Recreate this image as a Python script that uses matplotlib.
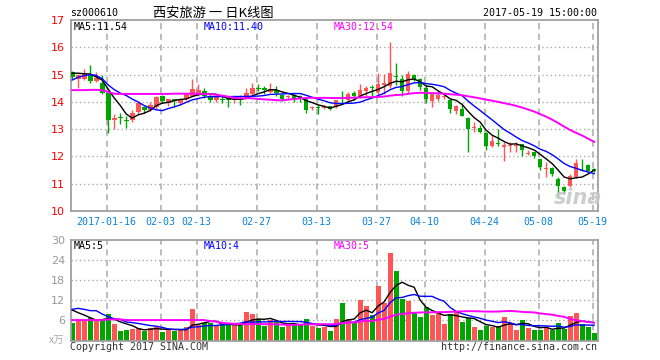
import numpy as np
import pandas as pd
import matplotlib
matplotlib.use('Agg')
import matplotlib.pyplot as plt

# ---------------- data ----------------
start_date = '2017-01-06'
end_date = '2017-05-19'
holidays = ['2017-01-27', '2017-01-30', '2017-01-31', '2017-02-01', '2017-02-02',
            '2017-04-03', '2017-04-04', '2017-05-01']

opens = [15.08, 14.83, 14.85, 15.03, 14.75, 14.70, 14.33, 13.35, 13.42, 13.35,
         13.35, 13.62, 13.80, 13.70, 13.80, 14.20, 13.97, 14.10, 13.97, 14.10,
         14.21, 14.25, 14.38, 14.20, 14.05, 14.12, 14.10, 14.07, 14.12, 14.15,
         14.27, 14.50, 14.49, 14.36, 14.43, 14.25, 14.17, 14.26, 14.21, 14.09,
         13.76, 13.80, 13.78, 13.84, 13.80, 14.15, 14.05, 14.33, 14.21, 14.40,
         14.55, 14.37, 14.62, 14.58, 14.93, 14.83, 14.40, 14.97, 14.83, 14.50,
         14.03, 14.10, 14.18, 14.05, 13.66, 13.72, 13.41, 13.03, 13.04, 12.86,
         12.37, 12.48, 12.33, 12.40, 12.40, 12.46, 12.08, 12.15, 11.90, 11.55,
         11.57, 11.17, 10.87, 10.90, 11.26, 11.52, 11.68, 11.53]
highs = [15.12, 15.02, 15.20, 15.35, 15.10, 14.97, 14.40, 13.55, 13.60, 13.50,
         13.70, 14.00, 13.85, 14.00, 14.20, 14.25, 14.12, 14.10, 14.12, 14.30,
         14.84, 14.64, 14.52, 14.28, 14.25, 14.20, 14.12, 14.20, 14.25, 14.52,
         14.70, 14.64, 14.57, 14.68, 14.57, 14.30, 14.25, 14.30, 14.26, 14.10,
         13.85, 13.88, 13.90, 13.86, 14.08, 14.40, 14.35, 14.40, 14.64, 14.58,
         14.62, 15.07, 15.02, 16.21, 15.41, 15.00, 15.13, 15.02, 14.88, 14.60,
         14.30, 14.38, 14.30, 14.10, 13.90, 13.94, 13.45, 13.25, 13.15, 12.88,
         12.77, 13.00, 12.52, 12.52, 12.52, 12.47, 12.25, 12.15, 11.92, 11.78,
         11.62, 11.26, 10.92, 11.35, 11.90, 11.90, 11.72, 11.58]
lows = [14.85, 14.52, 14.80, 14.70, 14.72, 14.30, 12.86, 13.00, 13.20, 13.05,
        13.25, 13.55, 13.60, 13.65, 13.75, 13.95, 13.85, 13.80, 13.90, 14.05,
        14.20, 14.22, 14.15, 14.00, 14.00, 13.95, 13.80, 13.95, 13.88, 14.12,
        14.25, 14.39, 14.27, 14.33, 14.20, 14.03, 14.05, 14.00, 14.00, 13.60,
        13.70, 13.55, 13.72, 13.70, 13.78, 13.97, 13.97, 14.05, 14.15, 14.20,
        14.15, 14.20, 14.27, 14.52, 14.62, 14.21, 14.33, 14.78, 14.45, 13.97,
        13.82, 14.03, 14.12, 13.60, 13.54, 13.48, 12.15, 12.88, 12.85, 12.22,
        12.33, 12.38, 11.85, 12.18, 12.18, 12.00, 12.05, 11.95, 11.49, 11.24,
        11.30, 10.47, 10.65, 10.88, 11.22, 11.45, 11.45, 11.42]
closes = [14.90, 15.00, 15.03, 14.75, 14.88, 14.33, 13.35, 13.40, 13.40, 13.30,
          13.58, 13.94, 13.70, 13.90, 14.18, 14.03, 14.10, 14.03, 14.10, 14.27,
          14.47, 14.42, 14.22, 14.08, 14.20, 14.06, 14.05, 14.10, 14.08, 14.33,
          14.52, 14.47, 14.43, 14.48, 14.31, 14.12, 14.20, 14.10, 14.09, 13.70,
          13.78, 13.77, 13.85, 13.74, 14.05, 14.10, 14.27, 14.21, 14.42, 14.52,
          14.50, 14.64, 14.70, 15.04, 14.90, 14.40, 15.01, 14.83, 14.56, 14.10,
          14.27, 14.25, 14.20, 13.72, 13.84, 13.50, 13.00, 13.05, 12.90, 12.37,
          12.58, 12.45, 12.43, 12.42, 12.42, 12.22, 12.10, 12.03, 11.63, 11.58,
          11.35, 10.92, 10.75, 11.30, 11.77, 11.48, 11.48, 11.45]
volumes = [5.3, 6.1, 6.1, 6.8, 6.1, 6.1, 7.9, 4.9, 2.9, 3.1,
           3.4, 3.6, 2.9, 3.8, 4.1, 2.6, 3.3, 2.9, 3.3, 3.9,
           9.5, 4.6, 5.1, 5.3, 4.3, 4.6, 4.7, 4.8, 4.7, 8.5,
           7.8, 6.3, 4.3, 6.1, 5.6, 3.9, 4.9, 4.6, 4.5, 6.3,
           4.3, 3.6, 3.9, 2.8, 6.4, 11.3, 6.4, 5.1, 12.1, 10.3,
           7.6, 16.4, 11.3, 26.2, 20.7, 12.4, 11.8, 8.5, 7.0, 9.9,
           7.6, 8.1, 4.9, 7.8, 8.8, 5.6, 6.6, 4.0, 3.1, 4.4,
           4.1, 4.3, 7.0, 5.1, 3.1, 6.1, 3.7, 3.1, 3.1, 3.8,
           3.1, 5.1, 3.5, 7.3, 8.1, 4.9, 4.1, 2.3]

# moving-average values for days whose window starts before the shown range
ma5_lead = [15.05, 15.05, 15.03, 15.02]
ma10_lead = [14.80, 14.90, 14.96, 15.00, 14.97, 14.85, 14.62, 14.45, 14.32]
ma30_lead = [14.43, 14.43, 14.43, 14.44, 14.44, 14.43, 14.36, 14.30, 14.29, 14.29,
             14.29, 14.29, 14.29, 14.29, 14.29, 14.29, 14.29, 14.30, 14.30, 14.30,
             14.30, 14.30, 14.29, 14.28, 14.26, 14.23, 14.19, 14.15, 14.13]
vma5_lead = [9.1, 8.3, 7.6, 6.8]
vma10_lead = [9.3, 9.6, 9.3, 8.9, 8.9, 7.9, 7.1, 6.5, 6.3]
vma30_lead = [6.1, 6.1, 6.1, 6.1, 6.1, 6.1, 6.3, 6.3, 6.3, 6.1,
              6.1, 6.1, 6.1, 6.1, 6.1, 6.1, 6.1, 6.1, 6.1, 6.1,
              6.1, 6.1, 6.1, 5.8, 5.6, 5.3, 5.1, 5.0, 4.9]

tick_dates = ['2017-01-16', '2017-02-03', '2017-02-13', '2017-02-27', '2017-03-13',
              '2017-03-27', '2017-04-10', '2017-04-24', '2017-05-08', '2017-05-19']
tick_labels = ['2017-01-16', '02-03', '02-13', '02-27', '03-13',
               '03-27', '04-10', '04-24', '05-08', '05-19']
price_ticks = [10, 11, 12, 13, 14, 15, 16, 17]
vol_ticks = [6, 12, 18, 24, 30]

code = 'sz000610'
title = '西安旅游 一 日K线图'
timestamp = '2017-05-19 15:00:00'
price_ma_text = ['MA5:11.54', 'MA10:11.40', 'MA30:12.54']
vol_ma_text = ['MA5:5', 'MA10:4', 'MA30:5']

# ---------------- helpers ----------------
dates = [d for d in pd.bdate_range(start_date, end_date)
         if d.strftime('%Y-%m-%d') not in holidays]
date_str = [d.strftime('%Y-%m-%d') for d in dates]
n = len(opens)
x = np.arange(n)
tick_pos = [date_str.index(d) - 0.25 for d in tick_dates]


def moving(values, window, lead):
    s = pd.Series(values).rolling(window).mean().to_numpy()
    s[:len(lead)] = lead
    return s

ma5 = moving(closes, 5, ma5_lead)
ma10 = moving(closes, 10, ma10_lead)
ma30 = moving(closes, 30, ma30_lead)
vma5 = moving(volumes, 5, vma5_lead)
vma10 = moving(volumes, 10, vma10_lead)
vma30 = moving(volumes, 30, vma30_lead)

RED = '#ff5555'
GREEN = '#00a600'
GRID = '#aaaaaa'
SPINE = '#a0a0a0'
MONO = 'DejaVu Sans Mono'
W, H = 660, 360

o = np.array(opens); c = np.array(closes)
up = c >= o
colors = [RED if u else GREEN for u in up]

fig = plt.figure(figsize=(6.6, 3.6), dpi=100)
fig.patch.set_facecolor('white')

def px(xp, yp):
    return xp / W, 1 - yp / H

l, r = 70.7, 597.7
ax = fig.add_axes([l / W, (H - 211) / H, (r - l) / W, (211 - 20) / H])
ax2 = fig.add_axes([l / W, (H - 340.5) / H, (r - l) / W, (340.5 - 240) / H])

for a in (ax, ax2):
    a.set_xlim(-0.25, n - 0.4)
    for s in a.spines.values():
        s.set_color(SPINE)
        s.set_linewidth(1.3)
    a.tick_params(length=0)
    for tp in tick_pos:
        a.axvline(tp, color=GRID, lw=1.1, ls=(0, (4, 3)), zorder=0)

# price panel
ax.set_ylim(10, 17)
for yv in price_ticks[1:-1]:
    ax.axhline(yv, color=GRID, lw=1, ls=(0, (1, 2)), zorder=0)
ax.vlines(x, lows, highs, colors=colors, lw=1, zorder=2)
body_bottom = np.minimum(o, c)
body_h = np.maximum(np.abs(c - o), 0.035)
ax.bar(x, body_h, bottom=body_bottom, width=0.78, color=colors, linewidth=0, zorder=3)
ax.plot(x, ma5, color='black', lw=1, zorder=4)
ax.plot(x, ma10, color='#0000ff', lw=1, zorder=4)
ax.plot(x, ma30, color='#ff00ff', lw=1.4, zorder=4)
ax.set_yticks(price_ticks)
ax.set_yticklabels([str(t) for t in price_ticks], color='#ff0000', fontsize=8,
                   family='DejaVu Sans')
ax.tick_params(axis='y', pad=4)
ax.set_xticks(tick_pos)
ax.set_xticklabels(tick_labels, color='#0a84d8', fontsize=7.2, family=MONO)
ax.tick_params(axis='x', pad=4)

# volume panel
ax2.set_ylim(0, 30)
for yv in vol_ticks[:-1]:
    ax2.axhline(yv, color=GRID, lw=1, ls=(0, (1, 2)), zorder=0)
ax2.bar(x, volumes, width=0.82, color=colors, linewidth=0, zorder=2)
ax2.plot(x, vma5, color='black', lw=1, zorder=4)
ax2.plot(x, vma10, color='#0000ff', lw=1, zorder=4)
ax2.plot(x, vma30, color='#ff00ff', lw=1.4, zorder=4)
ax2.set_yticks(vol_ticks)
ax2.set_yticklabels([str(t) for t in vol_ticks], color='#999999', fontsize=8,
                    family='DejaVu Sans')
ax2.tick_params(axis='y', pad=4)
ax2.set_xticks([])

# texts
fig.text(*px(70, 13), code, fontsize=7.2, family=MONO, color='black', va='center', ha='left')
fig.text(*px(213, 13), title, fontsize=9.5, family=['Noto Sans CJK SC', 'DejaVu Sans'],
         color='black', va='center', ha='center')
fig.text(*px(597, 13), timestamp, fontsize=7.2, family=MONO, color='black', va='center', ha='right')

ma_cols = ['black', '#0000ff', '#ff00ff']
ma_x = [74, 204, 334]
for t, col, xx in zip(price_ma_text, ma_cols, ma_x):
    fig.text(*px(xx, 27), t, fontsize=7.2, family=MONO, color=col, va='center', ha='left')
for t, col, xx in zip(vol_ma_text, ma_cols, ma_x):
    fig.text(*px(xx, 246), t, fontsize=7.2, family=MONO, color=col, va='center', ha='left')

fig.text(*px(57, 341), 'x万', fontsize=7.5, family=['Noto Sans CJK SC', 'DejaVu Sans'],
         color='#aaaaaa', style='italic', va='center', ha='center')
fig.text(*px(70, 347), 'Copyright 2017 SINA.COM', fontsize=7.2, family=MONO,
         color='#333333', va='center', ha='left')
fig.text(*px(597, 347), 'http://finance.sina.com.cn', fontsize=7.2, family=MONO,
         color='#333333', va='center', ha='right')

# watermark
fig.text(*px(578, 198), 'sina', fontsize=15, family='DejaVu Sans', weight='bold',
         style='italic', color='#c8c8c8', va='center', ha='center', alpha=0.9)

fig.savefig('out.png', dpi=100, facecolor='white')
